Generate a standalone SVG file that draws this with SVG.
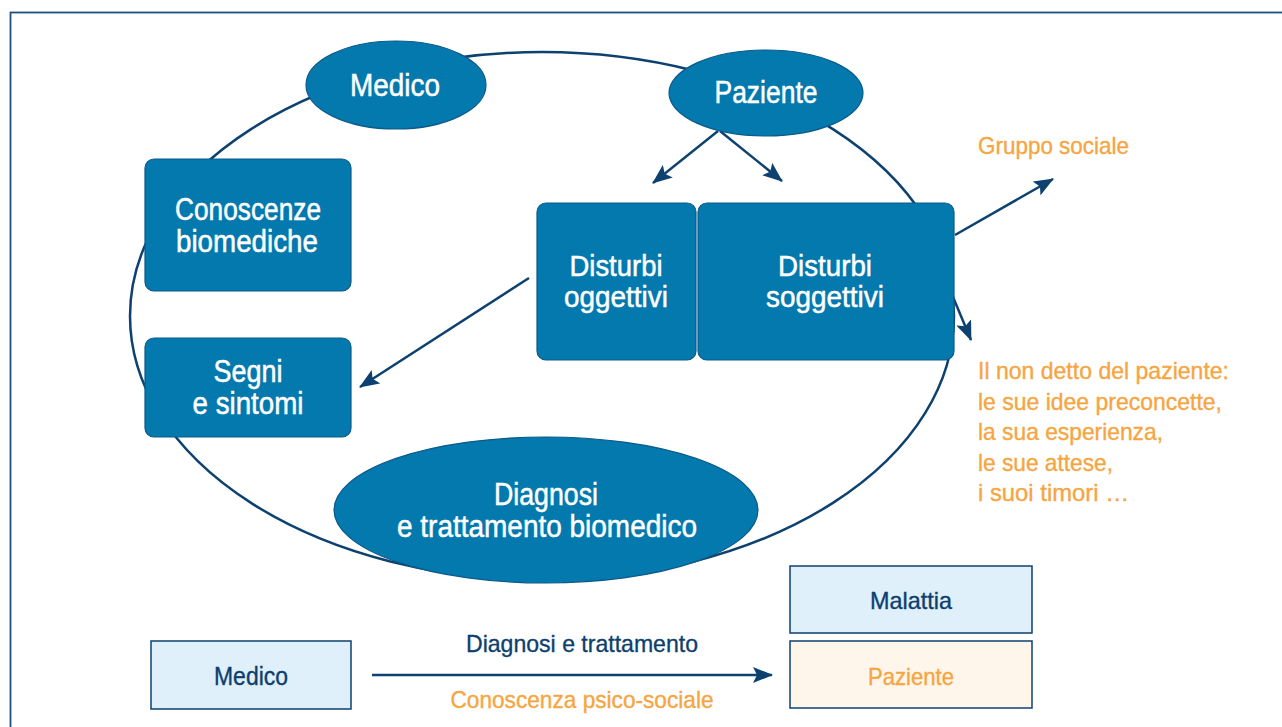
<svg xmlns="http://www.w3.org/2000/svg" width="1282" height="727" viewBox="0 0 1282 727">
<style>
.node{fill:#0479ad;stroke:#0b5a8a;stroke-width:1.2}
.wt{fill:#ffffff;stroke:#ffffff;stroke-width:0.5;font-family:"Liberation Sans",Arial,sans-serif;font-size:31px;text-anchor:middle}
.ot{fill:#f6a540;stroke:#f6a540;stroke-width:0.35;font-family:"Liberation Sans",Arial,sans-serif;font-size:24px}
.nt{fill:#0d3f6e;stroke:#0d3f6e;stroke-width:0.35;font-family:"Liberation Sans",Arial,sans-serif;font-size:24px;text-anchor:middle}
.ob{fill:#f6a540;stroke:#f6a540;stroke-width:0.35;font-family:"Liberation Sans",Arial,sans-serif;font-size:24px;text-anchor:middle}
.con{stroke:#0d416f;stroke-width:2.5;fill:none}
.lb{fill:#dff0fb;stroke:#0d416f;stroke-width:1.5}
.lo{fill:#fef5eb;stroke:#0d416f;stroke-width:1.5}
</style>
<defs>
<marker id="ah" viewBox="0 0 20 16" refX="19" refY="8" markerWidth="20" markerHeight="16" markerUnits="userSpaceOnUse" orient="auto">
<path d="M0,0 L20,8 L0,16 L4,8 z" fill="#0d416f"/>
</marker>
</defs>
<rect x="0" y="0" width="1282" height="727" fill="#ffffff"/>
<rect x="10.5" y="12.5" width="1300" height="740" fill="none" stroke="#1d4f80" stroke-width="1.8"/>
<ellipse cx="542" cy="316" rx="412" ry="264" fill="none" stroke="#0d416f" stroke-width="2.5"/>
<g id="connectors">
<line class="con" x1="718" y1="131" x2="653" y2="183" marker-end="url(#ah)"/>
<line class="con" x1="720" y1="131" x2="782" y2="181" marker-end="url(#ah)"/>
<line class="con" x1="529" y1="278" x2="360" y2="387" marker-end="url(#ah)"/>
<line class="con" x1="955" y1="235" x2="1053" y2="179" marker-end="url(#ah)"/>
<line class="con" x1="953" y1="297" x2="971" y2="340" marker-end="url(#ah)"/>
<line class="con" x1="372" y1="675" x2="772" y2="675" marker-end="url(#ah)"/>
</g>
<g id="medico">
<ellipse class="node" cx="396" cy="85" rx="90" ry="44"/>
<text class="wt" x="395" y="96" textLength="90" lengthAdjust="spacingAndGlyphs">Medico</text>
</g>
<g id="paziente">
<ellipse class="node" cx="766" cy="93" rx="97" ry="43"/>
<text class="wt" x="766" y="103" textLength="103" lengthAdjust="spacingAndGlyphs">Paziente</text>
</g>
<g id="conoscenze">
<rect class="node" x="145" y="159" width="206" height="132" rx="9"/>
<text class="wt" x="248" y="220" textLength="146" lengthAdjust="spacingAndGlyphs">Conoscenze</text>
<text class="wt" x="247" y="252" textLength="142" lengthAdjust="spacingAndGlyphs">biomediche</text>
</g>
<g id="segni">
<rect class="node" x="145" y="338" width="206" height="99" rx="9"/>
<text class="wt" x="248" y="382" textLength="69" lengthAdjust="spacingAndGlyphs">Segni</text>
<text class="wt" x="248" y="414" textLength="111" lengthAdjust="spacingAndGlyphs">e sintomi</text>
</g>
<g id="disturbi-oggettivi">
<rect class="node" x="537" y="203" width="159" height="157" rx="9"/>
<text class="wt" x="616" y="276" style="font-size:30px" textLength="93" lengthAdjust="spacingAndGlyphs">Disturbi</text>
<text class="wt" x="616" y="307" style="font-size:30px" textLength="104" lengthAdjust="spacingAndGlyphs">oggettivi</text>
</g>
<g id="disturbi-soggettivi">
<rect class="node" x="698" y="203" width="256" height="157" rx="9"/>
<text class="wt" x="825" y="276" style="font-size:30px" textLength="94" lengthAdjust="spacingAndGlyphs">Disturbi</text>
<text class="wt" x="825" y="307" style="font-size:30px" textLength="118" lengthAdjust="spacingAndGlyphs">soggettivi</text>
</g>
<g id="diagnosi">
<ellipse class="node" cx="546" cy="510" rx="212" ry="73"/>
<text class="wt" x="546" y="505" textLength="104" lengthAdjust="spacingAndGlyphs">Diagnosi</text>
<text class="wt" x="547" y="537" textLength="300" lengthAdjust="spacingAndGlyphs">e trattamento biomedico</text>
</g>
<g id="gruppo-sociale">
<text class="ot" x="978" y="154" textLength="151" lengthAdjust="spacingAndGlyphs">Gruppo sociale</text>
</g>
<g id="non-detto">
<text class="ot" x="978" y="379" textLength="251" lengthAdjust="spacingAndGlyphs">Il non detto del paziente:</text>
<text class="ot" x="978" y="409.5" textLength="244" lengthAdjust="spacingAndGlyphs">le sue idee preconcette,</text>
<text class="ot" x="978" y="440" textLength="185" lengthAdjust="spacingAndGlyphs">la sua esperienza,</text>
<text class="ot" x="978" y="470.5" textLength="135" lengthAdjust="spacingAndGlyphs">le sue attese,</text>
<text class="ot" x="978" y="501" textLength="151" lengthAdjust="spacingAndGlyphs">i suoi timori …</text>
</g>
<g id="medico-box">
<rect class="lb" x="151" y="641" width="200" height="68"/>
<text class="nt" x="251" y="685" style="font-size:25px" textLength="74" lengthAdjust="spacingAndGlyphs">Medico</text>
</g>
<g id="arrow-labels">
<text class="nt" x="582" y="652" textLength="232" lengthAdjust="spacingAndGlyphs">Diagnosi e trattamento</text>
<text class="ob" x="582" y="708" textLength="263" lengthAdjust="spacingAndGlyphs">Conoscenza psico-sociale</text>
</g>
<g id="malattia-box">
<rect class="lb" x="790" y="566" width="242" height="67"/>
<text class="nt" x="911" y="609" textLength="82" lengthAdjust="spacingAndGlyphs">Malattia</text>
</g>
<g id="paziente-box">
<rect class="lo" x="790" y="641" width="242" height="67"/>
<text class="ob" x="911" y="685" textLength="86" lengthAdjust="spacingAndGlyphs">Paziente</text>
</g>
</svg>
